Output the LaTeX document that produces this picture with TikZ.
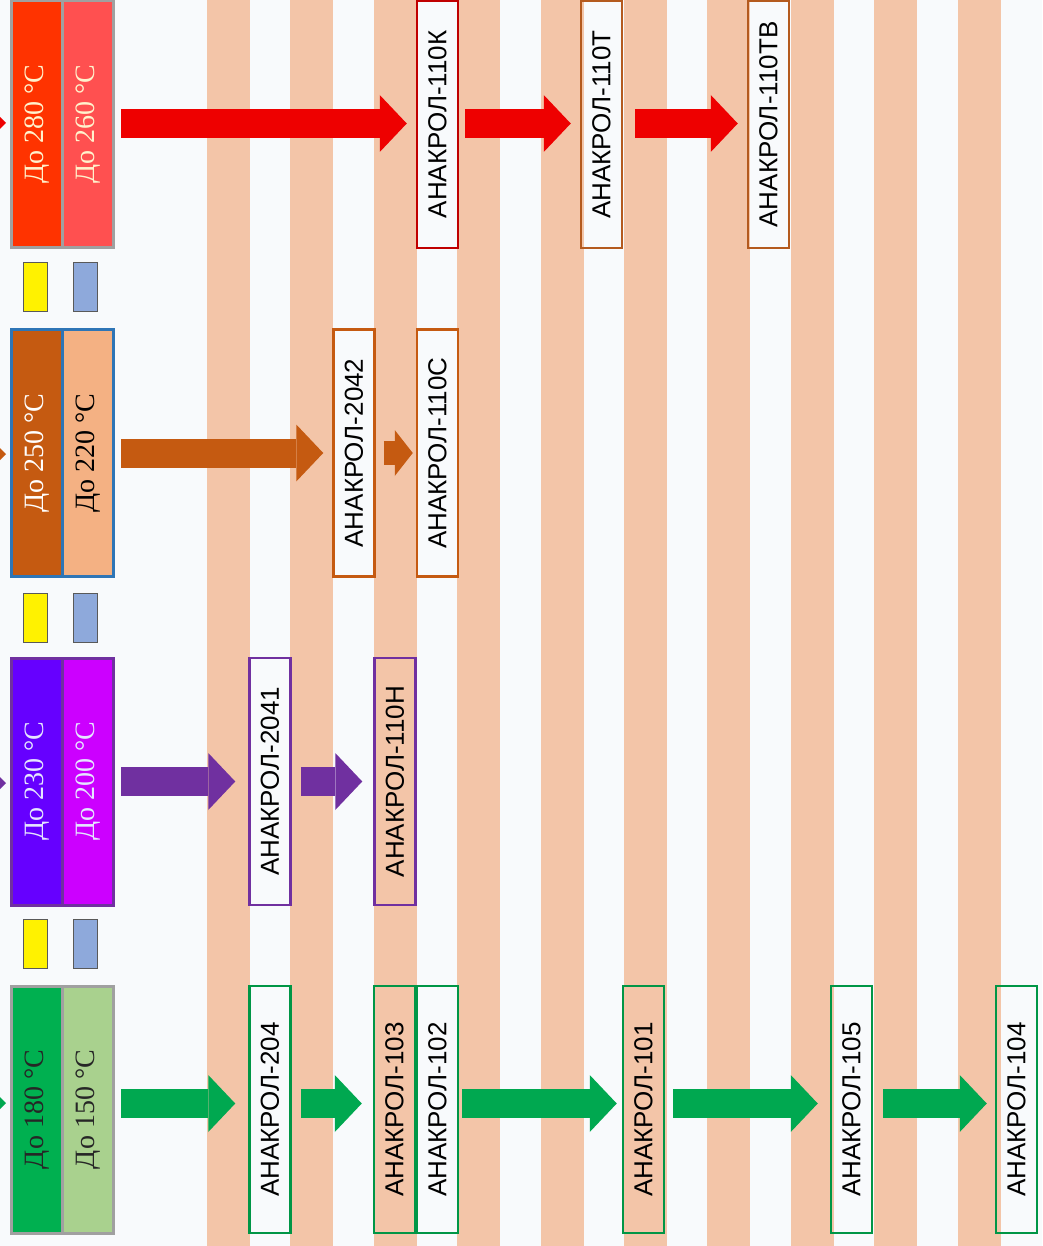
\documentclass[tikz,border=0pt]{standalone}
\usepackage{fontspec}
\usepackage{graphicx}
\setmainfont{Liberation Sans}
\newfontfamily\tempfont{Liberation Serif}
\usetikzlibrary{arrows.meta}

\definecolor{bgwhite}{RGB}{248,250,252}
\definecolor{stripe}{RGB}{243,197,168}
\definecolor{arrred}{RGB}{238,0,0}
\definecolor{arrbrown}{RGB}{197,90,17}
\definecolor{arrpurple}{RGB}{112,48,160}
\definecolor{arrgreen}{RGB}{0,168,80}
\definecolor{c280}{RGB}{255,51,0}
\definecolor{c260}{RGB}{255,80,80}
\definecolor{c220}{RGB}{244,177,131}
\definecolor{c230}{RGB}{102,0,255}
\definecolor{c200}{RGB}{204,0,255}
\definecolor{c180}{RGB}{0,176,80}
\definecolor{c150}{RGB}{169,209,142}
\definecolor{lightyel}{RGB}{255,242,204}
\definecolor{framegray}{RGB}{160,160,160}
\definecolor{frameblue}{RGB}{46,117,182}
\definecolor{boxred}{RGB}{192,0,0}
\definecolor{boxbrown}{RGB}{180,90,30}
\definecolor{boxgreen}{RGB}{0,150,70}
\definecolor{sqblue}{RGB}{142,169,219}

\begin{document}
\begin{tikzpicture}[x=1pt,y=-1pt,
    prod/.style={draw=#1,line width=2.5pt,minimum width=41pt,minimum height=247pt,inner sep=0pt,
        font=\fontsize{26}{26}\selectfont},
    cell/.style n args={3}{draw=#3,line width=3pt,fill=#1,text=#2,minimum width=51pt,minimum height=247pt,
        inner sep=0pt,font=\tempfont\fontsize{28}{28}\selectfont},
    flow/.style={draw=#1,line width=29pt,-{Triangle[length=27pt,width=57pt,line width=0pt]},
        shorten <=6pt,shorten >=9pt},
    sq/.style={draw=black!65,line width=1pt,fill=#1,minimum width=24pt,minimum height=49pt,inner sep=0pt}]
\useasboundingbox (0,0) rectangle (1042,1246);
\clip (0,0) rectangle (1042,1246);
\fill[bgwhite] (0,0) rectangle (1042,1246);
\foreach \i in {0,...,9}
    \fill[stripe] ({207+83.4*\i},0) rectangle +(43,1246);

% arrow tips cut off at the left edge
\fill[arrred] (-22,95) -- (6,123) -- (-22,151) -- cycle;
\fill[arrbrown] (-22,426) -- (6,454) -- (-22,482) -- cycle;
\fill[arrpurple] (-22,755) -- (6,783) -- (-22,811) -- cycle;
\fill[arrgreen] (-22,1075) -- (6,1103) -- (-22,1131) -- cycle;

% temperature cells
\node[cell={c280}{lightyel}{framegray}] (t280) at (37,124.5) {\rotatebox{90}{До 280 °C}};
\node[cell={c260}{lightyel}{framegray}] (t260) at (88,124.5) {\rotatebox{90}{До 260 °C}};
\node[cell={arrbrown}{white}{frameblue}] (t250) at (37,453) {\rotatebox{90}{До 250 °C}};
\node[cell={c220}{black}{frameblue}] (t220) at (88,453) {\rotatebox{90}{До 220 °C}};
\node[cell={c230}{white!90!blue}{arrpurple}] (t230) at (37,781.5) {\rotatebox{90}{До 230 °C}};
\node[cell={c200}{white!90!blue}{arrpurple}] (t200) at (88,781.5) {\rotatebox{90}{До 200 °C}};
\node[cell={c180}{black!85}{framegray}] (t180) at (37,1109.5) {\rotatebox{90}{До 180 °C}};
\node[cell={c150}{black!85}{framegray}] (t150) at (88,1109.5) {\rotatebox{90}{До 150 °C}};

\foreach \y/\n in {287/1,618/2,943.5/3} {
    \node[sq=yellow] (y\n) at (35.5,\y) {};
    \node[sq=sqblue] (b\n) at (85.5,\y) {};
}

% products
\node[prod=boxred] (a110k) at (437.5,124.5) {\rotatebox{90}{АНАКРОЛ-110К}};
\node[prod=boxbrown] (a110t) at (601.5,124.5) {\rotatebox{90}{АНАКРОЛ-110Т}};
\node[prod=boxbrown] (a110tb) at (768.5,124.5) {\rotatebox{90}{АНАКРОЛ-110ТВ}};
\node[prod=arrbrown] (a2042) at (354,453) {\rotatebox{90}{АНАКРОЛ-2042}};
\node[prod=arrbrown] (a110s) at (437.5,453) {\rotatebox{90}{АНАКРОЛ-110С}};
\node[prod=arrpurple] (a2041) at (270,781.5) {\rotatebox{90}{АНАКРОЛ-2041}};
\node[prod=arrpurple] (a110n) at (395,781.5) {\rotatebox{90}{АНАКРОЛ-110Н}};
\node[prod=boxgreen] (a204) at (270,1109.5) {\rotatebox{90}{АНАКРОЛ-204}};
\node[prod=boxgreen] (a103) at (394.5,1109.5) {\rotatebox{90}{АНАКРОЛ-103}};
\node[prod=boxgreen] (a102) at (437.5,1109.5) {\rotatebox{90}{АНАКРОЛ-102}};
\node[prod=boxgreen] (a101) at (643.5,1109.5) {\rotatebox{90}{АНАКРОЛ-101}};
\node[prod=boxgreen] (a105) at (851.5,1109.5) {\rotatebox{90}{АНАКРОЛ-105}};
\node[prod=boxgreen] (a104) at (1016.5,1109.5) {\rotatebox{90}{АНАКРОЛ-104}};

% arrows
\draw[flow=arrred] ([yshift=1pt]t260.east) -- ([yshift=1pt]a110k.west);
\draw[flow=arrred] ([yshift=1pt]a110k.east) -- ([yshift=1pt]a110t.west);
\draw[flow=arrred,shorten <=12pt] ([yshift=1pt]a110t.east) -- ([yshift=1pt]a110tb.west);
\draw[flow=arrbrown] (t220.east) -- (a2042.west);
\draw[flow=arrbrown,line width=24pt,-{Triangle[length=18pt,width=46pt,line width=0pt]},
    shorten <=8pt,shorten >=3pt] (a2042.east) -- (a110s.west);
\draw[flow=arrpurple,shorten >=13pt] (t200.east) -- (a2041.west);
\draw[flow=arrpurple,shorten <=9pt,shorten >=11pt] (a2041.east) -- (a110n.west);
\draw[flow=arrgreen,shorten >=13pt] ([yshift=6pt]t150.east) -- ([yshift=6pt]a204.west);
\draw[flow=arrgreen,shorten <=9pt,shorten >=11pt] ([yshift=6pt]a204.east) -- ([yshift=6pt]a103.west);
\draw[flow=arrgreen,shorten <=3pt,shorten >=5pt] ([yshift=6pt]a102.east) -- ([yshift=6pt]a101.west);
\draw[flow=arrgreen,shorten <=8pt,shorten >=12pt] ([yshift=6pt]a101.east) -- ([yshift=6pt]a105.west);
\draw[flow=arrgreen,shorten <=10pt,shorten >=8pt] ([yshift=6pt]a105.east) -- ([yshift=6pt]a104.west);
\end{tikzpicture}
\end{document}
